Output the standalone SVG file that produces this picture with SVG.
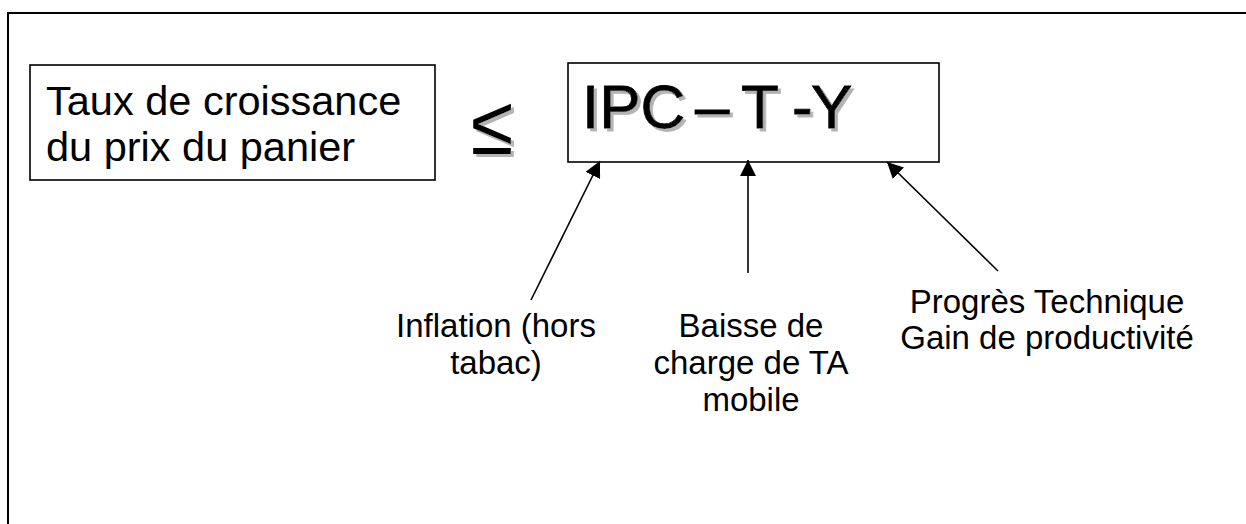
<svg xmlns="http://www.w3.org/2000/svg" width="1246" height="524" viewBox="0 0 1246 524">
  <defs>
    <marker id="arrow" markerUnits="userSpaceOnUse" markerWidth="16" markerHeight="16" refX="16" refY="8" orient="auto" viewBox="0 0 16 16">
      <path d="M0,0 L16,8 L0,16 z" fill="#000"/>
    </marker>
    <!-- grey drop shadow for the formula glyphs -->
    <filter id="drop" x="-10%" y="-10%" width="130%" height="140%">
      <feFlood flood-color="#b4b4b4" result="grey"/>
      <feComposite in="grey" in2="SourceAlpha" operator="in" result="tint"/>
      <feOffset in="tint" dx="3" dy="3" result="shade"/>
      <feMerge>
        <feMergeNode in="shade"/>
        <feMergeNode in="SourceGraphic"/>
      </feMerge>
    </filter>
  </defs>
  <style>
    .box { fill: #fff; stroke: #000; stroke-width: 1.6; }
    .txt { font-family: "Liberation Sans", Arial, sans-serif; fill: #000; }
    .big { font-size: 41.5px; }
    .lbl { font-size: 33px; text-anchor: middle; }
    .ipc { font-size: 62px; stroke: #000; stroke-width: 0.8; }
    .conn { stroke: #000; stroke-width: 1.6; fill: none; marker-end: url(#arrow); }
  </style>

  <rect width="1246" height="524" fill="#fff"/>

  <!-- page frame (left and top edges) -->
  <path d="M8,524 V13 H1246" fill="none" stroke="#000" stroke-width="2"/>

  <g id="node-taux">
    <rect class="box" x="30" y="65" width="405" height="115"/>
    <text class="txt big" x="46" y="115">Taux de croissance</text>
    <text class="txt big" x="46" y="161">du prix du panier</text>
  </g>

  <g id="node-leq" filter="url(#drop)">
    <text class="txt" font-size="62" transform="translate(471,154) scale(1.25,1.35)">≤</text>
  </g>

  <g id="node-ipc">
    <rect class="box" x="568" y="63" width="371" height="99"/>
    <g filter="url(#drop)">
      <text class="txt ipc" y="128"><tspan x="582">IPC</tspan><tspan x="695">–</tspan><tspan x="741">T</tspan><tspan x="792">-</tspan><tspan x="811">Y</tspan></text>
    </g>
  </g>

  <g id="node-inflation">
    <text class="txt lbl" x="496" y="337">Inflation (hors</text>
    <text class="txt lbl" x="496" y="374">tabac)</text>
  </g>

  <g id="node-baisse">
    <text class="txt lbl" x="751" y="337">Baisse de</text>
    <text class="txt lbl" x="751" y="374">charge de TA</text>
    <text class="txt lbl" x="751" y="411">mobile</text>
  </g>

  <g id="node-progres">
    <text class="txt lbl" x="1047" y="313">Progrès Technique</text>
    <text class="txt lbl" x="1047" y="349">Gain de productivité</text>
  </g>

  <g id="connectors">
    <line class="conn" x1="531" y1="300" x2="600" y2="161"/>
    <line class="conn" x1="748" y1="273" x2="748" y2="160"/>
    <line class="conn" x1="998" y1="271" x2="887" y2="162"/>
  </g>
</svg>
